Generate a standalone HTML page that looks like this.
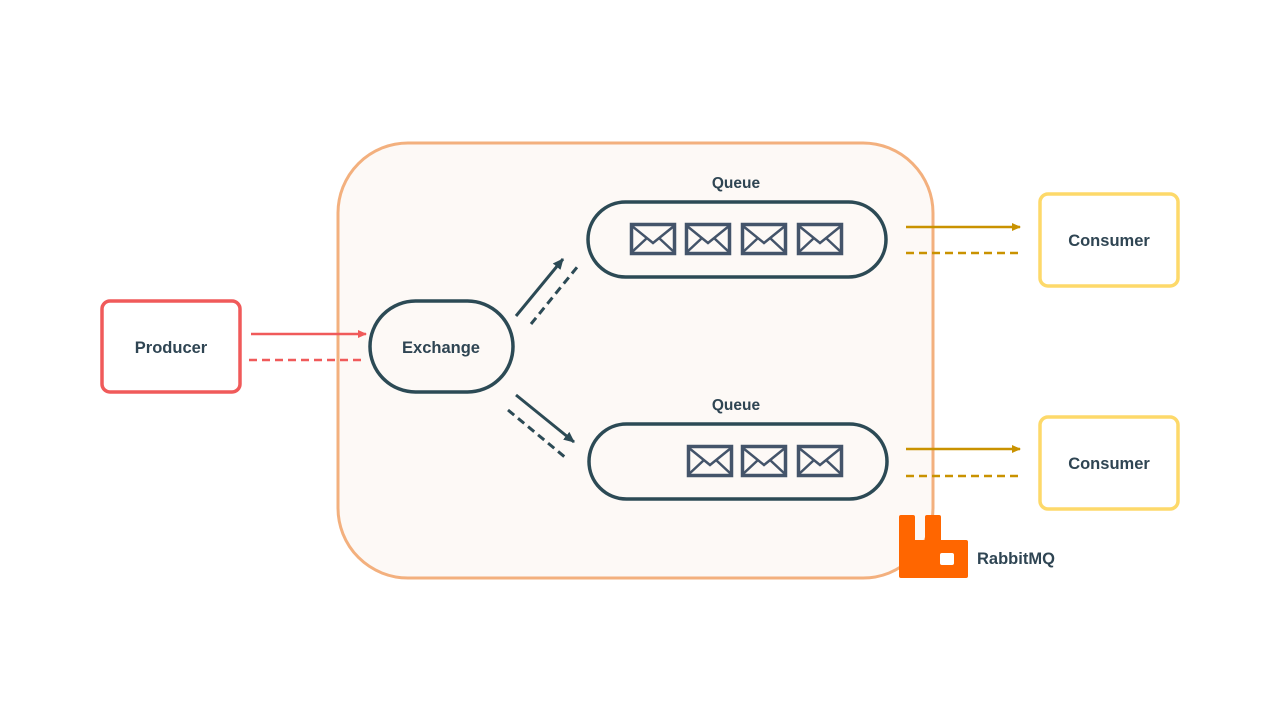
<!DOCTYPE html>
<html><head><meta charset="utf-8"><style>
html,body{margin:0;padding:0;background:#fff;}
svg{display:block;}
text{font-family:"Liberation Sans",sans-serif;font-weight:bold;fill:#2f4553;}
</style></head><body>
<svg width="1280" height="720" viewBox="0 0 1280 720" xmlns="http://www.w3.org/2000/svg">
<defs>
<marker id="ar" markerWidth="10" markerHeight="10" refX="8" refY="5" orient="auto" markerUnits="userSpaceOnUse"><path d="M0,1 L9,5 L0,9 z" fill="#f05a5a"/></marker>
<marker id="ad" markerWidth="12" markerHeight="12" refX="10" refY="6" orient="auto" markerUnits="userSpaceOnUse"><path d="M0,1 L11,6 L0,11 z" fill="#2c4a55"/></marker>
<marker id="ay" markerWidth="10" markerHeight="10" refX="8" refY="5" orient="auto" markerUnits="userSpaceOnUse"><path d="M0,1 L9,5 L0,9 z" fill="#c99200"/></marker>
<g id="env"><rect x="1.5" y="1.5" width="43" height="29" fill="none" stroke="#44546a" stroke-width="3.5"/><path d="M2,3 L23,20 L44,3 M2,29 L17,15 M44,29 L29,15" fill="none" stroke="#44546a" stroke-width="2.5"/></g>
</defs>
<rect x="338" y="143" width="595" height="435" rx="70" fill="#fdf9f6" stroke="#f3b07e" stroke-width="3"/>
<rect x="102" y="301" width="138" height="91" rx="8" fill="#fff" stroke="#f05a5a" stroke-width="3.5"/>
<text x="171" y="353" font-size="16.5" text-anchor="middle">Producer</text>
<line x1="251" y1="334" x2="366" y2="334" stroke="#f05a5a" stroke-width="2.5" marker-end="url(#ar)"/>
<line x1="249" y1="360" x2="364" y2="360" stroke="#f05a5a" stroke-width="2.5" stroke-dasharray="8,5"/>
<rect x="370" y="301" width="143" height="91" rx="45.5" fill="#fdf9f6" stroke="#2c4a55" stroke-width="3.5"/>
<text x="441" y="353" font-size="16.5" text-anchor="middle">Exchange</text>
<line x1="516" y1="316" x2="563" y2="259" stroke="#2c4a55" stroke-width="3" marker-end="url(#ad)"/>
<line x1="531" y1="324" x2="578" y2="266" stroke="#2c4a55" stroke-width="3" stroke-dasharray="8,5"/>
<line x1="516" y1="395" x2="574" y2="442" stroke="#2c4a55" stroke-width="3" marker-end="url(#ad)"/>
<line x1="508" y1="410" x2="566" y2="458" stroke="#2c4a55" stroke-width="3" stroke-dasharray="8,5"/>
<text x="736" y="188" font-size="15.5" text-anchor="middle">Queue</text>
<rect x="588" y="202" width="298" height="75" rx="37.5" fill="#fdf9f6" stroke="#2c4a55" stroke-width="3.5"/>
<use href="#env" x="630" y="223"/><use href="#env" x="685" y="223"/><use href="#env" x="741" y="223"/><use href="#env" x="797" y="223"/>
<text x="736" y="410" font-size="15.5" text-anchor="middle">Queue</text>
<rect x="589" y="424" width="298" height="75" rx="37.5" fill="#fdf9f6" stroke="#2c4a55" stroke-width="3.5"/>
<use href="#env" x="687" y="445"/><use href="#env" x="741" y="445"/><use href="#env" x="797" y="445"/>
<line x1="906" y1="227" x2="1020" y2="227" stroke="#c99200" stroke-width="2.5" marker-end="url(#ay)"/>
<line x1="906" y1="253" x2="1020" y2="253" stroke="#c99200" stroke-width="2.5" stroke-dasharray="8,5"/>
<line x1="906" y1="449" x2="1020" y2="449" stroke="#c99200" stroke-width="2.5" marker-end="url(#ay)"/>
<line x1="906" y1="476" x2="1020" y2="476" stroke="#c99200" stroke-width="2.5" stroke-dasharray="8,5"/>
<rect x="1040" y="194" width="138" height="92" rx="8" fill="#fff" stroke="#fdd96a" stroke-width="3.5"/>
<text x="1109" y="246" font-size="16.5" text-anchor="middle">Consumer</text>
<rect x="1040" y="417" width="138" height="92" rx="8" fill="#fff" stroke="#fdd96a" stroke-width="3.5"/>
<text x="1109" y="469" font-size="16.5" text-anchor="middle">Consumer</text>
<path d="M901,515 h12 a2,2 0 0 1 2,2 v23 h10 v-23 a2,2 0 0 1 2,-2 h12 a2,2 0 0 1 2,2 v23 h25 a2,2 0 0 1 2,2 v34 a2,2 0 0 1 -2,2 h-65 a2,2 0 0 1 -2,-2 v-59 a2,2 0 0 1 2,-2 z M942,553 a2,2 0 0 0 -2,2 v8 a2,2 0 0 0 2,2 h10 a2,2 0 0 0 2,-2 v-8 a2,2 0 0 0 -2,-2 z" fill="#ff6600" fill-rule="evenodd"/>
<text x="977" y="564" font-size="16.5">RabbitMQ</text>
</svg>
</body></html>
